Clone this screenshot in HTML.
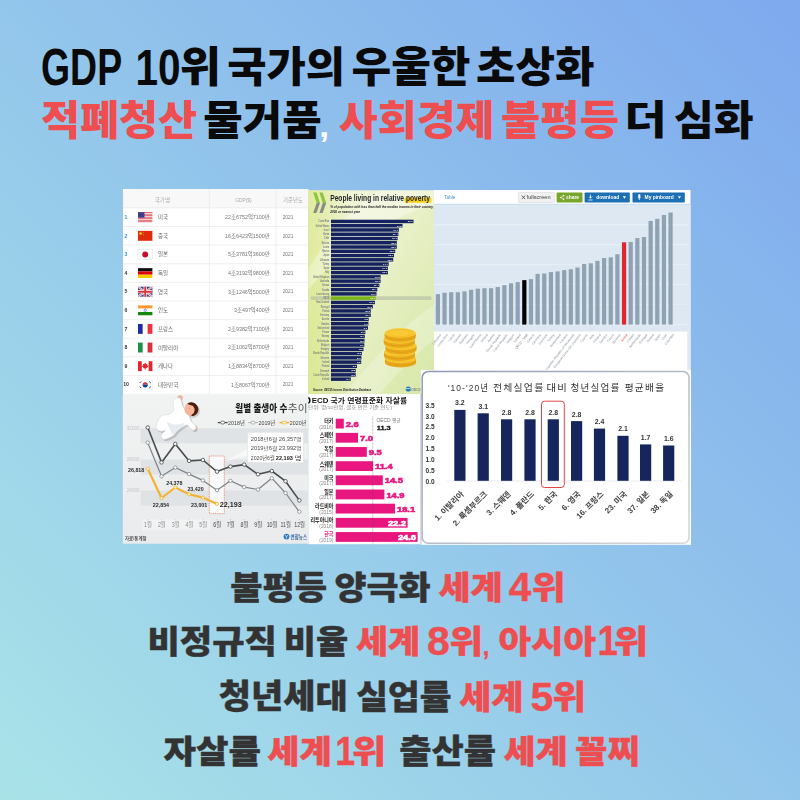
<!DOCTYPE html>
<html lang="ko"><head><meta charset="utf-8"><title>GDP 10위 국가의 우울한 초상화</title>
<style>
html,body{margin:0;padding:0;}
body{width:800px;height:800px;overflow:hidden;background:linear-gradient(45deg,#a9e3e8 0%,#93c6eb 50%,#7ea9ee 100%);font-family:"Liberation Sans","Noto Sans CJK KR",sans-serif;}
svg{position:absolute;left:0;top:0;display:block;}
</style></head><body>
<svg width="800" height="800" viewBox="0 0 800 800">
<defs>
<filter id="bl" x="-2%" y="-2%" width="104%" height="104%"><feGaussianBlur stdDeviation="0.35"/></filter>
<filter id="bl2" x="-5%" y="-5%" width="110%" height="110%"><feGaussianBlur stdDeviation="0.6"/></filter>
<linearGradient id="pov" x1="0" y1="0" x2="1" y2="1"><stop offset="0" stop-color="#f4f7e0"/><stop offset="0.5" stop-color="#e8f0c6"/><stop offset="1" stop-color="#d6e7a6"/></linearGradient>
<linearGradient id="povl" x1="0" y1="0" x2="1" y2="0"><stop offset="0" stop-color="#d3e26a" stop-opacity="0.55"/><stop offset="1" stop-color="#c3d94f" stop-opacity="0"/></linearGradient>
<linearGradient id="bg1" x1="0" y1="0" x2="0" y2="1"><stop offset="0" stop-color="#f1f3f3"/><stop offset="1" stop-color="#e9ebec"/></linearGradient>
<linearGradient id="ybd" x1="0" y1="0" x2="1" y2="1"><stop offset="0" stop-color="#8f97b3"/><stop offset="0.45" stop-color="#b4b9c6"/><stop offset="1" stop-color="#d6d6d6"/></linearGradient>
<clipPath id="cpTable"><rect x="123" y="189" width="185.5" height="206"/></clipPath>
<clipPath id="cpSui"><rect x="308.3" y="394" width="113" height="150.4"/></clipPath>
</defs>
<g id="collage" filter="url(#bl)" font-family="'Liberation Sans', 'Noto Sans CJK KR', sans-serif">
<g clip-path="url(#cpTable)">
<rect x="123.00" y="189.00" width="185.50" height="206.00" fill="#ffffff" />
<rect x="123.00" y="189.00" width="185.50" height="18.90" fill="#f8f8f8" />
<g stroke="#e6e6e6" stroke-width="0.6">
<line x1="123" y1="207.90" x2="308.5" y2="207.90"/>
<line x1="123" y1="226.52" x2="308.5" y2="226.52"/>
<line x1="123" y1="245.14" x2="308.5" y2="245.14"/>
<line x1="123" y1="263.76" x2="308.5" y2="263.76"/>
<line x1="123" y1="282.38" x2="308.5" y2="282.38"/>
<line x1="123" y1="301.00" x2="308.5" y2="301.00"/>
<line x1="123" y1="319.62" x2="308.5" y2="319.62"/>
<line x1="123" y1="338.24" x2="308.5" y2="338.24"/>
<line x1="123" y1="356.86" x2="308.5" y2="356.86"/>
<line x1="123" y1="375.48" x2="308.5" y2="375.48"/>
<line x1="123" y1="394.10" x2="308.5" y2="394.10"/>
<line x1="209.3" y1="189" x2="209.3" y2="394.2"/><line x1="276" y1="189" x2="276" y2="394.2"/>
</g>
<text x="154.67" y="201.90" font-size="5.6" fill="#aaaaaa">국가명</text>
<text x="243.40" y="201.60" font-size="4.80" fill="#aaaaaa" text-anchor="middle" font-weight="normal" >GDP($)</text>
<text x="283.06" y="201.90" font-size="5.4" fill="#aaaaaa">기준년도</text>
<text x="0.00" y="0.00" font-size="4.60" fill="#3a8be0" text-anchor="start" font-weight="bold" transform="translate(124.60 218.91) scale(1.120 1)" >1</text>
<rect x="138.00" y="212.26" width="14.40" height="9.90" fill="#ffffff" /><rect x="138.00" y="212.26" width="14.40" height="0.76" fill="#d8343f" /><rect x="138.00" y="213.78" width="14.40" height="0.76" fill="#d8343f" /><rect x="138.00" y="215.31" width="14.40" height="0.76" fill="#d8343f" /><rect x="138.00" y="216.83" width="14.40" height="0.76" fill="#d8343f" /><rect x="138.00" y="218.35" width="14.40" height="0.76" fill="#d8343f" /><rect x="138.00" y="219.88" width="14.40" height="0.76" fill="#d8343f" /><rect x="138.00" y="221.40" width="14.40" height="0.76" fill="#d8343f" /><rect x="138.00" y="212.26" width="6.48" height="5.35" fill="#3c3b8e" />
<text x="158.00" y="219.21" font-size="5.5" fill="#666666">미국</text>
<text x="269.8" y="219.11" font-size="5.4" fill="#777777" text-anchor="end">22조6752억7100만</text>
<text x="288.00" y="218.91" font-size="4.80" fill="#777777" text-anchor="middle" font-weight="normal" >2021</text>
<text x="0.00" y="0.00" font-size="4.60" fill="#3a8be0" text-anchor="start" font-weight="bold" transform="translate(124.60 237.53) scale(1.120 1)" >2</text>
<rect x="138.00" y="230.88" width="14.40" height="9.90" fill="#de2910" /><circle cx="140.60" cy="233.48" r="1.3" fill="#ffde00"/><circle cx="143.20" cy="232.18" r="0.45" fill="#ffde00"/><circle cx="143.60" cy="234.48" r="0.45" fill="#ffde00"/>
<text x="158.00" y="237.83" font-size="5.5" fill="#666666">중국</text>
<text x="269.8" y="237.73" font-size="5.4" fill="#777777" text-anchor="end">16조6423억1500만</text>
<text x="288.00" y="237.53" font-size="4.80" fill="#777777" text-anchor="middle" font-weight="normal" >2021</text>
<text x="0.00" y="0.00" font-size="4.60" fill="#3a8be0" text-anchor="start" font-weight="bold" transform="translate(124.60 256.15) scale(1.120 1)" >3</text>
<rect x="138.00" y="249.50" width="14.40" height="9.90" fill="#ffffff" stroke="#dddddd" stroke-width="0.5"/><circle cx="145.20" cy="254.45" r="2.97" fill="#c8102e"/>
<text x="158.00" y="256.45" font-size="5.5" fill="#666666">일본</text>
<text x="269.8" y="256.35" font-size="5.4" fill="#777777" text-anchor="end">5조3781억3600만</text>
<text x="288.00" y="256.15" font-size="4.80" fill="#777777" text-anchor="middle" font-weight="normal" >2021</text>
<text x="0.00" y="0.00" font-size="4.60" fill="#333333" text-anchor="start" font-weight="bold" transform="translate(124.60 274.77) scale(1.120 1)" >4</text>
<rect x="138.00" y="268.12" width="14.40" height="3.30" fill="#111111" /><rect x="138.00" y="271.42" width="14.40" height="3.30" fill="#dd0000" /><rect x="138.00" y="274.72" width="14.40" height="3.30" fill="#ffce00" />
<text x="158.00" y="275.07" font-size="5.5" fill="#666666">독일</text>
<text x="269.8" y="274.97" font-size="5.4" fill="#777777" text-anchor="end">4조3192억9800만</text>
<text x="288.00" y="274.77" font-size="4.80" fill="#777777" text-anchor="middle" font-weight="normal" >2021</text>
<text x="0.00" y="0.00" font-size="4.60" fill="#333333" text-anchor="start" font-weight="bold" transform="translate(124.60 293.39) scale(1.120 1)" >5</text>
<rect x="138.00" y="286.74" width="14.40" height="9.90" fill="#2b3f8c" /><path d="M138.00 286.74L152.40 296.64M152.40 286.74L138.00 296.64" stroke="#ffffff" stroke-width="2"/><path d="M138.00 286.74L152.40 296.64M152.40 286.74L138.00 296.64" stroke="#d8343f" stroke-width="0.7"/><path d="M145.20 286.74V296.64M138.00 291.69H152.40" stroke="#ffffff" stroke-width="3.2"/><path d="M145.20 286.74V296.64M138.00 291.69H152.40" stroke="#d8343f" stroke-width="1.9"/>
<text x="158.00" y="293.69" font-size="5.5" fill="#666666">영국</text>
<text x="269.8" y="293.59" font-size="5.4" fill="#777777" text-anchor="end">3조1246억5000만</text>
<text x="288.00" y="293.39" font-size="4.80" fill="#777777" text-anchor="middle" font-weight="normal" >2021</text>
<text x="0.00" y="0.00" font-size="4.60" fill="#333333" text-anchor="start" font-weight="bold" transform="translate(124.60 312.01) scale(1.120 1)" >6</text>
<rect x="138.00" y="305.36" width="14.40" height="3.30" fill="#ff9933" /><rect x="138.00" y="308.66" width="14.40" height="3.30" fill="#ffffff" /><rect x="138.00" y="311.96" width="14.40" height="3.30" fill="#138808" /><circle cx="145.20" cy="310.31" r="1.2" fill="none" stroke="#1a3a9a" stroke-width="0.5"/>
<text x="158.00" y="312.31" font-size="5.5" fill="#666666">인도</text>
<text x="269.8" y="312.21" font-size="5.4" fill="#777777" text-anchor="end">3조497억400만</text>
<text x="288.00" y="312.01" font-size="4.80" fill="#777777" text-anchor="middle" font-weight="normal" >2021</text>
<text x="0.00" y="0.00" font-size="4.60" fill="#333333" text-anchor="start" font-weight="bold" transform="translate(124.60 330.63) scale(1.120 1)" >7</text>
<rect x="138.00" y="323.98" width="4.80" height="9.90" fill="#1a2fa0" /><rect x="142.80" y="323.98" width="4.80" height="9.90" fill="#ffffff" /><rect x="147.60" y="323.98" width="4.80" height="9.90" fill="#ef3340" />
<text x="158.00" y="330.93" font-size="5.5" fill="#666666">프랑스</text>
<text x="269.8" y="330.83" font-size="5.4" fill="#777777" text-anchor="end">2조9382억7100만</text>
<text x="288.00" y="330.63" font-size="4.80" fill="#777777" text-anchor="middle" font-weight="normal" >2021</text>
<text x="0.00" y="0.00" font-size="4.60" fill="#333333" text-anchor="start" font-weight="bold" transform="translate(124.60 349.25) scale(1.120 1)" >8</text>
<rect x="138.00" y="342.60" width="4.80" height="9.90" fill="#1a9248" /><rect x="142.80" y="342.60" width="4.80" height="9.90" fill="#ffffff" /><rect x="147.60" y="342.60" width="4.80" height="9.90" fill="#d6323f" />
<text x="158.00" y="349.55" font-size="5.5" fill="#666666">이탈리아</text>
<text x="269.8" y="349.45" font-size="5.4" fill="#777777" text-anchor="end">2조1062억8700만</text>
<text x="288.00" y="349.25" font-size="4.80" fill="#777777" text-anchor="middle" font-weight="normal" >2021</text>
<text x="0.00" y="0.00" font-size="4.60" fill="#333333" text-anchor="start" font-weight="bold" transform="translate(124.60 367.87) scale(1.120 1)" >9</text>
<rect x="138.00" y="361.22" width="14.40" height="9.90" fill="#ffffff" /><rect x="138.00" y="361.22" width="3.74" height="9.90" fill="#e8202a" /><rect x="148.66" y="361.22" width="3.74" height="9.90" fill="#e8202a" /><path fill="#e8202a" d="M145.20 362.57l1 1.8 1.3-.5-.4 2 1.4-.3-.5 1.3-2.1 1.7h-.4v1.4h-.6v-1.4h-.4l-2.1-1.7-.5-1.3 1.4.3-.4-2 1.3.5z"/>
<text x="158.00" y="368.17" font-size="5.5" fill="#666666">캐나다</text>
<text x="269.8" y="368.07" font-size="5.4" fill="#777777" text-anchor="end">1조8834억8700만</text>
<text x="288.00" y="367.87" font-size="4.80" fill="#777777" text-anchor="middle" font-weight="normal" >2021</text>
<text x="0.00" y="0.00" font-size="4.60" fill="#333333" text-anchor="start" font-weight="bold" transform="translate(123.20 386.49) scale(1.120 1)" >10</text>
<rect x="138.00" y="379.84" width="14.40" height="9.90" fill="#ffffff" stroke="#e2e2e2" stroke-width="0.4"/><path d="M142.60 384.79A2.60 2.60 0 0 1 147.80 384.79Z" fill="#cd2e3a"/><path d="M142.60 384.79A2.60 2.60 0 0 0 147.80 384.79Z" fill="#0047a0"/><path d="M139.60 383.04l1.6-1.6M149.20 381.44l1.6 1.6M139.60 386.54l1.6 1.6M149.20 388.14l1.6-1.6" stroke="#222" stroke-width="0.9"/>
<text x="158.00" y="386.79" font-size="5.5" fill="#666666">대한민국</text>
<text x="269.8" y="386.69" font-size="5.4" fill="#777777" text-anchor="end">1조8067억700만</text>
<text x="288.00" y="386.49" font-size="4.80" fill="#777777" text-anchor="middle" font-weight="normal" >2021</text>
</g>
<g id="pov">
<rect x="308.30" y="190.30" width="125.70" height="203.70" fill="url(#pov)" />
<rect x="308.30" y="190.30" width="41.70" height="203.70" fill="url(#povl)" />
<path d="M308.3 290C340 250 390 215 434 205V190.3H380C350 210 325 240 308.3 270Z" fill="#ffffff" opacity="0.35"/>
<path d="M345 394C380 350 410 320 434 305V340C415 355 395 375 380 394Z" fill="#ffffff" opacity="0.25"/>
<path d="M313.20 192.6h3.4l3.4 10.4h-3.4z" fill="#8dc63f"/><path d="M316.60 203h3.4l-3.6 10h-3.2z" fill="#8a8d86"/>
<path d="M319.40 192.6h3.4l3.4 10.4h-3.4z" fill="#8dc63f"/><path d="M322.80 203h3.4l-3.6 10h-3.2z" fill="#8a8d86"/>
<rect x="404.4" y="197.6" width="27" height="5.2" rx="1.5" fill="#f6d21f"/>
<text x="0.00" y="0.00" font-size="8.70" fill="#1f2226" text-anchor="start" font-weight="bold" transform="translate(330.20 200.70) scale(0.765 1)" >People living in relative poverty</text>
<text x="0.00" y="0.00" font-size="3.60" fill="#222" text-anchor="start" font-weight="bold" transform="translate(330.20 207.50) scale(0.860 1)" font-style="italic">% of population with less than half the median income in their country,</text>
<text x="0.00" y="0.00" font-size="3.60" fill="#222" text-anchor="start" font-weight="bold" transform="translate(330.20 212.90) scale(0.860 1)" font-style="italic">2016 or nearest year</text>
<rect x="310.6" y="296.32" width="121" height="3.7" rx="1.8" fill="#b9c4a8" opacity="0.75"/>
<rect x="331.00" y="219.70" width="82.50" height="3.50" fill="#14245f" />
<text x="0.00" y="0.00" font-size="2.60" fill="#7a8078" text-anchor="end" font-weight="bold" transform="translate(329.30 222.35) scale(0.820 1)" >Costa Rica</text>
<text x="412.70" y="222.30" font-size="2.50" fill="#ffffff" text-anchor="end" font-weight="bold" >20.9</text>
<rect x="331.00" y="223.96" width="71.50" height="3.50" fill="#14245f" />
<text x="0.00" y="0.00" font-size="2.60" fill="#7a8078" text-anchor="end" font-weight="bold" transform="translate(329.30 226.61) scale(0.820 1)" >United States</text>
<text x="401.70" y="226.56" font-size="2.50" fill="#ffffff" text-anchor="end" font-weight="bold" >17.8</text>
<rect x="331.00" y="228.22" width="67.90" height="3.50" fill="#14245f" />
<text x="0.00" y="0.00" font-size="2.60" fill="#7a8078" text-anchor="end" font-weight="bold" transform="translate(329.30 230.87) scale(0.820 1)" >Israel</text>
<text x="398.10" y="230.82" font-size="2.50" fill="#ffffff" text-anchor="end" font-weight="bold" >17.7</text>
<rect x="331.00" y="232.49" width="67.40" height="3.50" fill="#14245f" />
<text x="0.00" y="0.00" font-size="2.60" fill="#7a8078" text-anchor="end" font-weight="bold" transform="translate(329.30 235.14) scale(0.820 1)" >Korea</text>
<text x="397.60" y="235.09" font-size="2.50" fill="#ffffff" text-anchor="end" font-weight="bold" >17.4</text>
<rect x="331.00" y="236.75" width="66.60" height="3.50" fill="#14245f" />
<text x="0.00" y="0.00" font-size="2.60" fill="#7a8078" text-anchor="end" font-weight="bold" transform="translate(329.30 239.40) scale(0.820 1)" >Chile</text>
<text x="396.80" y="239.35" font-size="2.50" fill="#ffffff" text-anchor="end" font-weight="bold" >16.1</text>
<rect x="331.00" y="241.01" width="65.80" height="3.50" fill="#14245f" />
<text x="0.00" y="0.00" font-size="2.60" fill="#7a8078" text-anchor="end" font-weight="bold" transform="translate(329.30 243.66) scale(0.820 1)" >Estonia</text>
<text x="396.00" y="243.61" font-size="2.50" fill="#ffffff" text-anchor="end" font-weight="bold" >15.7</text>
<rect x="331.00" y="245.27" width="65.80" height="3.50" fill="#14245f" />
<text x="0.00" y="0.00" font-size="2.60" fill="#7a8078" text-anchor="end" font-weight="bold" transform="translate(329.30 247.92) scale(0.820 1)" >Latvia</text>
<text x="396.00" y="247.87" font-size="2.50" fill="#ffffff" text-anchor="end" font-weight="bold" >15.7</text>
<rect x="331.00" y="249.53" width="64.20" height="3.50" fill="#14245f" />
<text x="0.00" y="0.00" font-size="2.60" fill="#7a8078" text-anchor="end" font-weight="bold" transform="translate(329.30 252.18) scale(0.820 1)" >Mexico</text>
<text x="394.40" y="252.13" font-size="2.50" fill="#ffffff" text-anchor="end" font-weight="bold" >15.6</text>
<rect x="331.00" y="253.80" width="63.00" height="3.50" fill="#14245f" />
<text x="0.00" y="0.00" font-size="2.60" fill="#7a8078" text-anchor="end" font-weight="bold" transform="translate(329.30 256.45) scale(0.820 1)" >Japan</text>
<text x="393.20" y="256.40" font-size="2.50" fill="#ffffff" text-anchor="end" font-weight="bold" >15.7</text>
<rect x="331.00" y="258.06" width="62.20" height="3.50" fill="#14245f" />
<text x="0.00" y="0.00" font-size="2.60" fill="#7a8078" text-anchor="end" font-weight="bold" transform="translate(329.30 260.71) scale(0.820 1)" >Lithuania</text>
<text x="392.40" y="260.66" font-size="2.50" fill="#ffffff" text-anchor="end" font-weight="bold" >15.7</text>
<rect x="331.00" y="262.32" width="57.70" height="3.50" fill="#14245f" />
<text x="0.00" y="0.00" font-size="2.60" fill="#7a8078" text-anchor="end" font-weight="bold" transform="translate(329.30 264.97) scale(0.820 1)" >Turkey</text>
<text x="387.90" y="264.92" font-size="2.50" fill="#ffffff" text-anchor="end" font-weight="bold" >14.4</text>
<rect x="331.00" y="266.58" width="56.90" height="3.50" fill="#14245f" />
<text x="0.00" y="0.00" font-size="2.60" fill="#7a8078" text-anchor="end" font-weight="bold" transform="translate(329.30 269.23) scale(0.820 1)" >Spain</text>
<text x="387.10" y="269.18" font-size="2.50" fill="#ffffff" text-anchor="end" font-weight="bold" >14.1</text>
<rect x="331.00" y="270.84" width="56.90" height="3.50" fill="#14245f" />
<text x="0.00" y="0.00" font-size="2.60" fill="#7a8078" text-anchor="end" font-weight="bold" transform="translate(329.30 273.49) scale(0.820 1)" >Italy</text>
<text x="387.10" y="273.44" font-size="2.50" fill="#ffffff" text-anchor="end" font-weight="bold" >13.7</text>
<rect x="331.00" y="275.11" width="49.60" height="3.50" fill="#14245f" />
<text x="0.00" y="0.00" font-size="2.60" fill="#7a8078" text-anchor="end" font-weight="bold" transform="translate(329.30 277.76) scale(0.820 1)" >United Kingdom</text>
<text x="379.80" y="277.71" font-size="2.50" fill="#ffffff" text-anchor="end" font-weight="bold" >11.9</text>
<rect x="331.00" y="279.37" width="49.60" height="3.50" fill="#14245f" />
<text x="0.00" y="0.00" font-size="2.60" fill="#7a8078" text-anchor="end" font-weight="bold" transform="translate(329.30 282.02) scale(0.820 1)" >Australia</text>
<text x="379.80" y="281.97" font-size="2.50" fill="#ffffff" text-anchor="end" font-weight="bold" >12.1</text>
<rect x="331.00" y="283.63" width="48.40" height="3.50" fill="#14245f" />
<text x="0.00" y="0.00" font-size="2.60" fill="#7a8078" text-anchor="end" font-weight="bold" transform="translate(329.30 286.28) scale(0.820 1)" >Greece</text>
<text x="378.60" y="286.23" font-size="2.50" fill="#ffffff" text-anchor="end" font-weight="bold" >11.4</text>
<rect x="331.00" y="287.89" width="46.30" height="3.50" fill="#14245f" />
<text x="0.00" y="0.00" font-size="2.60" fill="#7a8078" text-anchor="end" font-weight="bold" transform="translate(329.30 290.54) scale(0.820 1)" >Canada</text>
<text x="376.50" y="290.49" font-size="2.50" fill="#ffffff" text-anchor="end" font-weight="bold" >12.4</text>
<rect x="331.00" y="292.15" width="45.50" height="3.50" fill="#14245f" />
<text x="0.00" y="0.00" font-size="2.60" fill="#7a8078" text-anchor="end" font-weight="bold" transform="translate(329.30 294.80) scale(0.820 1)" >Luxembourg</text>
<text x="375.70" y="294.75" font-size="2.50" fill="#ffffff" text-anchor="end" font-weight="bold" >11.1</text>
<rect x="331.00" y="296.42" width="44.70" height="3.50" fill="#7ab51d" />
<text x="0.00" y="0.00" font-size="2.60" fill="#7a8078" text-anchor="end" font-weight="bold" transform="translate(329.30 299.07) scale(0.820 1)" >OECD</text>
<text x="374.90" y="299.02" font-size="2.50" fill="#ffffff" text-anchor="end" font-weight="bold" >11.7</text>
<rect x="331.00" y="300.68" width="43.90" height="3.50" fill="#14245f" />
<text x="0.00" y="0.00" font-size="2.60" fill="#7a8078" text-anchor="end" font-weight="bold" transform="translate(329.30 303.33) scale(0.820 1)" >New Zealand</text>
<text x="374.10" y="303.28" font-size="2.50" fill="#ffffff" text-anchor="end" font-weight="bold" >10.9</text>
<rect x="331.00" y="304.94" width="41.90" height="3.50" fill="#14245f" />
<text x="0.00" y="0.00" font-size="2.60" fill="#7a8078" text-anchor="end" font-weight="bold" transform="translate(329.30 307.59) scale(0.820 1)" >Portugal</text>
<text x="372.10" y="307.54" font-size="2.50" fill="#ffffff" text-anchor="end" font-weight="bold" >10.9</text>
<rect x="331.00" y="309.20" width="39.80" height="3.50" fill="#14245f" />
<text x="0.00" y="0.00" font-size="2.60" fill="#7a8078" text-anchor="end" font-weight="bold" transform="translate(329.30 311.85) scale(0.820 1)" >Poland</text>
<text x="370.00" y="311.80" font-size="2.50" fill="#ffffff" text-anchor="end" font-weight="bold" >10.3</text>
<rect x="331.00" y="313.46" width="39.80" height="3.50" fill="#14245f" />
<text x="0.00" y="0.00" font-size="2.60" fill="#7a8078" text-anchor="end" font-weight="bold" transform="translate(329.30 316.11) scale(0.820 1)" >Germany</text>
<text x="370.00" y="316.06" font-size="2.50" fill="#ffffff" text-anchor="end" font-weight="bold" >10.4</text>
<rect x="331.00" y="317.73" width="37.70" height="3.50" fill="#14245f" />
<text x="0.00" y="0.00" font-size="2.60" fill="#7a8078" text-anchor="end" font-weight="bold" transform="translate(329.30 320.38) scale(0.820 1)" >Austria</text>
<text x="367.90" y="320.33" font-size="2.50" fill="#ffffff" text-anchor="end" font-weight="bold" >9.8</text>
<rect x="331.00" y="321.99" width="37.40" height="3.50" fill="#14245f" />
<text x="0.00" y="0.00" font-size="2.60" fill="#7a8078" text-anchor="end" font-weight="bold" transform="translate(329.30 324.64) scale(0.820 1)" >Sweden</text>
<text x="367.60" y="324.59" font-size="2.50" fill="#ffffff" text-anchor="end" font-weight="bold" >9.3</text>
<rect x="331.00" y="326.25" width="37.00" height="3.50" fill="#14245f" />
<text x="0.00" y="0.00" font-size="2.60" fill="#7a8078" text-anchor="end" font-weight="bold" transform="translate(329.30 328.90) scale(0.820 1)" >Switzerland</text>
<text x="367.20" y="328.85" font-size="2.50" fill="#ffffff" text-anchor="end" font-weight="bold" >9.1</text>
<rect x="331.00" y="330.51" width="34.40" height="3.50" fill="#14245f" />
<text x="0.00" y="0.00" font-size="2.60" fill="#7a8078" text-anchor="end" font-weight="bold" transform="translate(329.30 333.16) scale(0.820 1)" >France</text>
<text x="364.60" y="333.11" font-size="2.50" fill="#ffffff" text-anchor="end" font-weight="bold" >8.3</text>
<rect x="331.00" y="334.77" width="33.80" height="3.50" fill="#14245f" />
<text x="0.00" y="0.00" font-size="2.60" fill="#7a8078" text-anchor="end" font-weight="bold" transform="translate(329.30 337.42) scale(0.820 1)" >Norway</text>
<text x="364.00" y="337.37" font-size="2.50" fill="#ffffff" text-anchor="end" font-weight="bold" >8.4</text>
<rect x="331.00" y="339.04" width="33.50" height="3.50" fill="#14245f" />
<text x="0.00" y="0.00" font-size="2.60" fill="#7a8078" text-anchor="end" font-weight="bold" transform="translate(329.30 341.69) scale(0.820 1)" >Netherlands</text>
<text x="363.70" y="341.64" font-size="2.50" fill="#ffffff" text-anchor="end" font-weight="bold" >8.3</text>
<rect x="331.00" y="343.30" width="33.30" height="3.50" fill="#14245f" />
<text x="0.00" y="0.00" font-size="2.60" fill="#7a8078" text-anchor="end" font-weight="bold" transform="translate(329.30 345.95) scale(0.820 1)" >Belgium</text>
<text x="363.50" y="345.90" font-size="2.50" fill="#ffffff" text-anchor="end" font-weight="bold" >9.7</text>
<rect x="331.00" y="347.56" width="32.50" height="3.50" fill="#14245f" />
<text x="0.00" y="0.00" font-size="2.60" fill="#7a8078" text-anchor="end" font-weight="bold" transform="translate(329.30 350.21) scale(0.820 1)" >Hungary</text>
<text x="362.70" y="350.16" font-size="2.50" fill="#ffffff" text-anchor="end" font-weight="bold" >8.0</text>
<rect x="331.00" y="351.82" width="30.90" height="3.50" fill="#14245f" />
<text x="0.00" y="0.00" font-size="2.60" fill="#7a8078" text-anchor="end" font-weight="bold" transform="translate(329.30 354.47) scale(0.820 1)" >Slovak Republic</text>
<text x="361.10" y="354.42" font-size="2.50" fill="#ffffff" text-anchor="end" font-weight="bold" >8.5</text>
<rect x="331.00" y="356.08" width="30.40" height="3.50" fill="#14245f" />
<text x="0.00" y="0.00" font-size="2.60" fill="#7a8078" text-anchor="end" font-weight="bold" transform="translate(329.30 358.73) scale(0.820 1)" >Slovenia</text>
<text x="360.60" y="358.68" font-size="2.50" fill="#ffffff" text-anchor="end" font-weight="bold" >8.7</text>
<rect x="331.00" y="360.35" width="30.20" height="3.50" fill="#14245f" />
<text x="0.00" y="0.00" font-size="2.60" fill="#7a8078" text-anchor="end" font-weight="bold" transform="translate(329.30 363.00) scale(0.820 1)" >Ireland</text>
<text x="360.40" y="362.95" font-size="2.50" fill="#ffffff" text-anchor="end" font-weight="bold" >9.2</text>
<rect x="331.00" y="364.61" width="26.00" height="3.50" fill="#14245f" />
<text x="0.00" y="0.00" font-size="2.60" fill="#7a8078" text-anchor="end" font-weight="bold" transform="translate(329.30 367.26) scale(0.820 1)" >Finland</text>
<text x="356.20" y="367.21" font-size="2.50" fill="#ffffff" text-anchor="end" font-weight="bold" >6.3</text>
<rect x="331.00" y="368.87" width="24.70" height="3.50" fill="#14245f" />
<text x="0.00" y="0.00" font-size="2.60" fill="#7a8078" text-anchor="end" font-weight="bold" transform="translate(329.30 371.52) scale(0.820 1)" >Denmark</text>
<text x="354.90" y="371.47" font-size="2.50" fill="#ffffff" text-anchor="end" font-weight="bold" >5.8</text>
<rect x="331.00" y="373.13" width="24.70" height="3.50" fill="#14245f" />
<text x="0.00" y="0.00" font-size="2.60" fill="#7a8078" text-anchor="end" font-weight="bold" transform="translate(329.30 375.78) scale(0.820 1)" >Czech Republic</text>
<text x="354.90" y="375.73" font-size="2.50" fill="#ffffff" text-anchor="end" font-weight="bold" >5.6</text>
<rect x="331.00" y="377.39" width="19.80" height="3.50" fill="#14245f" />
<text x="0.00" y="0.00" font-size="2.60" fill="#7a8078" text-anchor="end" font-weight="bold" transform="translate(329.30 380.04) scale(0.820 1)" >Iceland</text>
<text x="350.00" y="379.99" font-size="2.50" fill="#ffffff" text-anchor="end" font-weight="bold" >5.4</text>
<path d="M385.00 358.50v4.20a15.50 4.70 0 0 0 31.00 0v-4.20z" fill="#e9a91c"/><path d="M385.00 360.60a15.50 4.70 0 0 0 31.00 0" fill="none" stroke="#d6920f" stroke-width="0.5"/><ellipse cx="400.50" cy="358.50" rx="15.50" ry="4.70" fill="#f8c932"/><ellipse cx="400.50" cy="358.50" rx="12.40" ry="3.53" fill="none" stroke="#f3b520" stroke-width="0.5"/>
<path d="M384.00 352.00v4.20a15.50 4.70 0 0 0 31.00 0v-4.20z" fill="#e9a91c"/><path d="M384.00 354.10a15.50 4.70 0 0 0 31.00 0" fill="none" stroke="#d6920f" stroke-width="0.5"/><ellipse cx="399.50" cy="352.00" rx="15.50" ry="4.70" fill="#f8c932"/><ellipse cx="399.50" cy="352.00" rx="12.40" ry="3.53" fill="none" stroke="#f3b520" stroke-width="0.5"/>
<path d="M385.50 345.50v4.20a15.50 4.70 0 0 0 31.00 0v-4.20z" fill="#e9a91c"/><path d="M385.50 347.60a15.50 4.70 0 0 0 31.00 0" fill="none" stroke="#d6920f" stroke-width="0.5"/><ellipse cx="401.00" cy="345.50" rx="15.50" ry="4.70" fill="#f8c932"/><ellipse cx="401.00" cy="345.50" rx="12.40" ry="3.53" fill="none" stroke="#f3b520" stroke-width="0.5"/>
<path d="M383.80 339.00v4.20a15.50 4.70 0 0 0 31.00 0v-4.20z" fill="#e9a91c"/><path d="M383.80 341.10a15.50 4.70 0 0 0 31.00 0" fill="none" stroke="#d6920f" stroke-width="0.5"/><ellipse cx="399.30" cy="339.00" rx="15.50" ry="4.70" fill="#f8c932"/><ellipse cx="399.30" cy="339.00" rx="12.40" ry="3.53" fill="none" stroke="#f3b520" stroke-width="0.5"/>
<path d="M384.70 333.00v4.20a15.50 4.70 0 0 0 31.00 0v-4.20z" fill="#e9a91c"/><path d="M384.70 335.10a15.50 4.70 0 0 0 31.00 0" fill="none" stroke="#d6920f" stroke-width="0.5"/><ellipse cx="400.20" cy="333.00" rx="15.50" ry="4.70" fill="#f8c932"/><ellipse cx="400.20" cy="333.00" rx="12.40" ry="3.53" fill="none" stroke="#f3b520" stroke-width="0.5"/>
<text x="0.00" y="0.00" font-size="3.20" fill="#222" text-anchor="start" font-weight="bold" transform="translate(313.00 391.20) scale(0.860 1)" font-style="italic">Source: OECD Income Distribution Database</text>
<circle cx="408.3" cy="389" r="2.6" fill="#2a7cc0"/><path d="M406 388.5h4.6" stroke="#bfe0f5" stroke-width="0.8"/>
<text x="0.00" y="0.00" font-size="4.20" fill="#7d8a86" text-anchor="start" font-weight="bold" transform="translate(411.30 390.50) scale(0.800 1)" >OECD</text>
</g>
<g id="oecd">
<rect x="434.00" y="190.00" width="256.50" height="181.50" fill="#ffffff" />
<rect x="434.00" y="204.30" width="256.50" height="127.20" fill="#dde8f2" />
<rect x="434.00" y="203.80" width="256.50" height="0.70" fill="#b5cfe3" />
<rect x="687.30" y="331.50" width="3.20" height="40.00" fill="#dfe9f3" />
<g stroke="#f3f7fb" stroke-width="0.6">
<line x1="434" y1="224.80" x2="687" y2="224.80"/>
<line x1="434" y1="244.75" x2="687" y2="244.75"/>
<line x1="434" y1="264.70" x2="687" y2="264.70"/>
<line x1="434" y1="284.30" x2="687" y2="284.30"/>
<line x1="434" y1="304.25" x2="687" y2="304.25"/>
<line x1="434" y1="324.60" x2="687" y2="324.60"/>
</g>
<rect x="435.80" y="294.15" width="4.20" height="30.45" fill="#8ea2b2" />
<text transform="translate(441.40 335.0) rotate(-52)" font-size="3.1" fill="#858d95" text-anchor="end">Lithuania</text>
<rect x="442.45" y="292.75" width="4.20" height="31.85" fill="#8ea2b2" />
<text transform="translate(448.05 335.0) rotate(-52)" font-size="3.1" fill="#858d95" text-anchor="end">Costa Rica</text>
<rect x="449.10" y="292.20" width="4.20" height="32.40" fill="#8ea2b2" />
<text transform="translate(454.70 335.0) rotate(-52)" font-size="3.1" fill="#858d95" text-anchor="end">Latvia</text>
<rect x="455.74" y="292.20" width="4.20" height="32.40" fill="#8ea2b2" />
<text transform="translate(461.34 335.0) rotate(-52)" font-size="3.1" fill="#858d95" text-anchor="end">Estonia</text>
<rect x="462.39" y="291.35" width="4.20" height="33.25" fill="#8ea2b2" />
<text transform="translate(467.99 335.0) rotate(-52)" font-size="3.1" fill="#858d95" text-anchor="end">Australia</text>
<rect x="469.04" y="289.80" width="4.20" height="34.80" fill="#8ea2b2" />
<text transform="translate(474.64 335.0) rotate(-52)" font-size="3.1" fill="#858d95" text-anchor="end">Hungary</text>
<rect x="475.69" y="288.70" width="4.20" height="35.90" fill="#8ea2b2" />
<text transform="translate(481.29 335.0) rotate(-52)" font-size="3.1" fill="#858d95" text-anchor="end">Luxembourg</text>
<rect x="482.34" y="288.20" width="4.20" height="36.40" fill="#8ea2b2" />
<text transform="translate(487.94 335.0) rotate(-52)" font-size="3.1" fill="#858d95" text-anchor="end">Ireland</text>
<rect x="488.98" y="288.20" width="4.20" height="36.40" fill="#8ea2b2" />
<text transform="translate(494.58 335.0) rotate(-52)" font-size="3.1" fill="#858d95" text-anchor="end">Austria</text>
<rect x="495.63" y="287.00" width="4.20" height="37.60" fill="#8ea2b2" />
<text transform="translate(501.23 335.0) rotate(-52)" font-size="3.1" fill="#858d95" text-anchor="end">Slovak Republic</text>
<rect x="502.28" y="285.20" width="4.20" height="39.40" fill="#8ea2b2" />
<text transform="translate(507.88 335.0) rotate(-52)" font-size="3.1" fill="#858d95" text-anchor="end">Czech Republic</text>
<rect x="508.93" y="283.30" width="4.20" height="41.30" fill="#8ea2b2" />
<text transform="translate(514.53 335.0) rotate(-52)" font-size="3.1" fill="#858d95" text-anchor="end">Belgium</text>
<rect x="515.58" y="282.10" width="4.20" height="42.50" fill="#8ea2b2" />
<text transform="translate(521.18 335.0) rotate(-52)" font-size="3.1" fill="#858d95" text-anchor="end">Iceland</text>
<rect x="522.22" y="280.15" width="4.20" height="44.45" fill="#000000" />
<text transform="translate(527.82 335.0) rotate(-52)" font-size="3.1" fill="#666" text-anchor="end">OECD - Total</text>
<rect x="528.87" y="279.10" width="4.20" height="45.50" fill="#8ea2b2" />
<text transform="translate(534.47 335.0) rotate(-52)" font-size="3.1" fill="#858d95" text-anchor="end">Greece</text>
<rect x="535.52" y="273.85" width="4.20" height="50.75" fill="#8ea2b2" />
<text transform="translate(541.12 335.0) rotate(-52)" font-size="3.1" fill="#858d95" text-anchor="end">Germany</text>
<rect x="542.17" y="273.50" width="4.20" height="51.10" fill="#8ea2b2" />
<text transform="translate(547.77 335.0) rotate(-52)" font-size="3.1" fill="#858d95" text-anchor="end">Denmark</text>
<rect x="548.82" y="272.10" width="4.20" height="52.50" fill="#8ea2b2" />
<text transform="translate(554.42 335.0) rotate(-52)" font-size="3.1" fill="#858d95" text-anchor="end">Turkey</text>
<rect x="555.46" y="271.40" width="4.20" height="53.20" fill="#8ea2b2" />
<text transform="translate(561.06 335.0) rotate(-52)" font-size="3.1" fill="#858d95" text-anchor="end">Switzerland</text>
<rect x="562.11" y="270.10" width="4.20" height="54.50" fill="#8ea2b2" />
<text transform="translate(567.71 335.0) rotate(-52)" font-size="3.1" fill="#858d95" text-anchor="end">Canada</text>
<rect x="568.76" y="269.25" width="4.20" height="55.35" fill="#8ea2b2" />
<text transform="translate(574.36 335.0) rotate(-52)" font-size="3.1" fill="#858d95" text-anchor="end">Former Yugoslav Republic of Macedonia</text>
<rect x="575.41" y="267.50" width="4.20" height="57.10" fill="#8ea2b2" />
<text transform="translate(581.01 335.0) rotate(-52)" font-size="3.1" fill="#858d95" text-anchor="end">European Union (28 countries)</text>
<rect x="582.06" y="264.00" width="4.20" height="60.60" fill="#8ea2b2" />
<text transform="translate(587.66 335.0) rotate(-52)" font-size="3.1" fill="#858d95" text-anchor="end">Cyprus</text>
<rect x="588.70" y="263.30" width="4.20" height="61.30" fill="#8ea2b2" />
<text transform="translate(594.30 335.0) rotate(-52)" font-size="3.1" fill="#858d95" text-anchor="end">Italy</text>
<rect x="595.35" y="260.85" width="4.20" height="63.75" fill="#8ea2b2" />
<text transform="translate(600.95 335.0) rotate(-52)" font-size="3.1" fill="#858d95" text-anchor="end">Finland</text>
<rect x="602.00" y="258.05" width="4.20" height="66.55" fill="#8ea2b2" />
<text transform="translate(607.60 335.0) rotate(-52)" font-size="3.1" fill="#858d95" text-anchor="end">Sweden</text>
<rect x="608.65" y="257.35" width="4.20" height="67.25" fill="#8ea2b2" />
<text transform="translate(614.25 335.0) rotate(-52)" font-size="3.1" fill="#858d95" text-anchor="end">France</text>
<rect x="615.30" y="254.20" width="4.20" height="70.40" fill="#8ea2b2" />
<text transform="translate(620.90 335.0) rotate(-52)" font-size="3.1" fill="#858d95" text-anchor="end">Slovenia</text>
<rect x="621.94" y="242.30" width="4.20" height="82.30" fill="#e0282e" />
<text transform="translate(627.54 335.0) rotate(-52)" font-size="3.1" fill="#e0282e" text-anchor="end">Korea</text>
<rect x="628.59" y="241.95" width="4.20" height="82.65" fill="#8ea2b2" />
<text transform="translate(634.19 335.0) rotate(-52)" font-size="3.1" fill="#858d95" text-anchor="end">Croatia</text>
<rect x="635.24" y="238.10" width="4.20" height="86.50" fill="#8ea2b2" />
<text transform="translate(640.84 335.0) rotate(-52)" font-size="3.1" fill="#858d95" text-anchor="end">Netherlands</text>
<rect x="641.89" y="237.05" width="4.20" height="87.55" fill="#8ea2b2" />
<text transform="translate(647.49 335.0) rotate(-52)" font-size="3.1" fill="#858d95" text-anchor="end">Portugal</text>
<rect x="648.54" y="220.95" width="4.20" height="103.65" fill="#8ea2b2" />
<text transform="translate(654.14 335.0) rotate(-52)" font-size="3.1" fill="#858d95" text-anchor="end">Poland</text>
<rect x="655.18" y="218.85" width="4.20" height="105.75" fill="#8ea2b2" />
<text transform="translate(660.78 335.0) rotate(-52)" font-size="3.1" fill="#858d95" text-anchor="end">Spain</text>
<rect x="661.83" y="215.00" width="4.20" height="109.60" fill="#8ea2b2" />
<text transform="translate(667.43 335.0) rotate(-52)" font-size="3.1" fill="#858d95" text-anchor="end">Chile</text>
<rect x="668.48" y="212.55" width="4.20" height="112.05" fill="#8ea2b2" />
<text transform="translate(674.08 335.0) rotate(-52)" font-size="3.1" fill="#858d95" text-anchor="end">Colombia</text>
<text x="444.30" y="199.30" font-size="4.60" fill="#4d8fc4" text-anchor="start" font-weight="normal" >Table</text>
<rect x="518.4" y="192.4" width="35.8" height="10.1" rx="0.8" fill="#f1f1f1" stroke="#d0d0d0" stroke-width="0.5"/>
<path d="M521.8 195.5l3.4 3.6m0-3.6l-3.4 3.6" stroke="#444" stroke-width="0.8"/>
<text x="526.60" y="199.20" font-size="5.60" fill="#444" text-anchor="start" font-weight="normal" >fullscreen</text>
<rect x="556.6" y="192.4" width="25.9" height="10.1" rx="0.8" fill="#78a62c"/>
<path d="M563.6 195.6l-3 1.9 3 1.9" stroke="#fff" stroke-width="0.7" fill="none"/><circle cx="563.7" cy="195.6" r="0.8" fill="#fff"/><circle cx="560.6" cy="197.5" r="0.8" fill="#fff"/><circle cx="563.7" cy="199.4" r="0.8" fill="#fff"/>
<text x="566.00" y="199.10" font-size="4.90" fill="#ffffff" text-anchor="start" font-weight="bold" >share</text>
<rect x="584.6" y="192.4" width="45.2" height="10.1" rx="0.8" fill="#1b6fb3"/>
<path d="M590.5 194.7v3.4m-1.6-1.5l1.6 1.6 1.6-1.6M588.4 200h4.2" stroke="#fff" stroke-width="0.8" fill="none"/>
<text x="596.30" y="199.10" font-size="4.90" fill="#ffffff" text-anchor="start" font-weight="bold" >download</text>
<path d="M622.8 196.2h3.2l-1.6 2.6z" fill="#fff"/>
<rect x="632.5" y="192.4" width="52.3" height="10.1" rx="0.8" fill="#1b6fb3"/>
<path d="M639.3 194.6v3m-1.4 0h2.8m-1.4 0v2.4" stroke="#fff" stroke-width="0.9" fill="none"/><rect x="638.3" y="194.4" width="2" height="2.6" fill="#fff"/>
<text x="644.60" y="199.10" font-size="4.90" fill="#ffffff" text-anchor="start" font-weight="bold" >My pinboard</text>
<path d="M677.8 196.2h3.2l-1.6 2.6z" fill="#fff"/>
</g>
<g id="birth">
<rect x="122.80" y="394.80" width="185.80" height="148.90" fill="url(#bg1)" />
<rect x="140.60" y="428.25" width="168.00" height="15.00" fill="#e0e3e5" />
<rect x="140.60" y="459.50" width="168.00" height="15.00" fill="#e0e3e5" />
<rect x="140.60" y="490.50" width="168.00" height="15.10" fill="#e0e3e5" />
<text x="126.80" y="429.60" font-size="4.60" fill="#c3c6c8" text-anchor="start" font-weight="normal" >32000</text>
<text x="126.80" y="461.00" font-size="4.60" fill="#c3c6c8" text-anchor="start" font-weight="normal" >28000</text>
<text x="126.80" y="491.80" font-size="4.60" fill="#c3c6c8" text-anchor="start" font-weight="normal" >24000</text>
<path d="M247.6 449L225 461.3 247.6 455.5Z" fill="#f7f8f8"/>
<rect x="209.3" y="456" width="15" height="57.6" fill="#ffffff" fill-opacity="0.75" stroke="#e06a55" stroke-width="0.7" stroke-dasharray="1 0.8"/>
<polyline points="147.75,442.70 161.53,476.30 175.31,467.50 189.09,474.10 202.87,480.40 217.00,490.20 230.43,480.80 244.21,487.10 257.99,489.50 271.77,478.20 285.55,493.00 299.33,511.80" fill="none" stroke="#7d8387" stroke-width="1.20" stroke-linejoin="round"/><circle cx="147.75" cy="442.70" r="1.70" fill="#ffffff" stroke="#7d8387" stroke-width="0.75"/><circle cx="161.53" cy="476.30" r="1.70" fill="#ffffff" stroke="#7d8387" stroke-width="0.75"/><circle cx="175.31" cy="467.50" r="1.70" fill="#ffffff" stroke="#7d8387" stroke-width="0.75"/><circle cx="189.09" cy="474.10" r="1.70" fill="#ffffff" stroke="#7d8387" stroke-width="0.75"/><circle cx="202.87" cy="480.40" r="1.70" fill="#ffffff" stroke="#7d8387" stroke-width="0.75"/><circle cx="217.00" cy="490.20" r="1.70" fill="#ffffff" stroke="#7d8387" stroke-width="0.75"/><circle cx="230.43" cy="480.80" r="1.70" fill="#ffffff" stroke="#7d8387" stroke-width="0.75"/><circle cx="244.21" cy="487.10" r="1.70" fill="#ffffff" stroke="#7d8387" stroke-width="0.75"/><circle cx="257.99" cy="489.50" r="1.70" fill="#ffffff" stroke="#7d8387" stroke-width="0.75"/><circle cx="271.77" cy="478.20" r="1.70" fill="#ffffff" stroke="#7d8387" stroke-width="0.75"/><circle cx="285.55" cy="493.00" r="1.70" fill="#ffffff" stroke="#7d8387" stroke-width="0.75"/><circle cx="299.33" cy="511.80" r="1.70" fill="#ffffff" stroke="#7d8387" stroke-width="0.75"/>
<polyline points="147.75,427.50 161.53,462.40 175.31,443.90 189.09,460.90 202.87,460.00 217.00,471.60 230.43,466.60 244.21,464.60 257.99,474.30 271.77,471.00 285.55,481.20 299.33,500.40" fill="none" stroke="#4a4d50" stroke-width="1.60" stroke-linejoin="round"/><circle cx="147.75" cy="427.50" r="1.75" fill="#ffffff" stroke="#4a4d50" stroke-width="0.85"/><circle cx="161.53" cy="462.40" r="1.75" fill="#ffffff" stroke="#4a4d50" stroke-width="0.85"/><circle cx="175.31" cy="443.90" r="1.75" fill="#ffffff" stroke="#4a4d50" stroke-width="0.85"/><circle cx="189.09" cy="460.90" r="1.75" fill="#ffffff" stroke="#4a4d50" stroke-width="0.85"/><circle cx="202.87" cy="460.00" r="1.75" fill="#ffffff" stroke="#4a4d50" stroke-width="0.85"/><circle cx="217.00" cy="471.60" r="1.75" fill="#ffffff" stroke="#4a4d50" stroke-width="0.85"/><circle cx="230.43" cy="466.60" r="1.75" fill="#ffffff" stroke="#4a4d50" stroke-width="0.85"/><circle cx="244.21" cy="464.60" r="1.75" fill="#ffffff" stroke="#4a4d50" stroke-width="0.85"/><circle cx="257.99" cy="474.30" r="1.75" fill="#ffffff" stroke="#4a4d50" stroke-width="0.85"/><circle cx="271.77" cy="471.00" r="1.75" fill="#ffffff" stroke="#4a4d50" stroke-width="0.85"/><circle cx="285.55" cy="481.20" r="1.75" fill="#ffffff" stroke="#4a4d50" stroke-width="0.85"/><circle cx="299.33" cy="500.40" r="1.75" fill="#ffffff" stroke="#4a4d50" stroke-width="0.85"/>
<polyline points="147.75,468.75 161.53,498.00 175.31,487.50 189.09,494.30 202.87,497.60 217.00,503.90" fill="none" stroke="#f2b335" stroke-width="2.20" stroke-linejoin="round"/><circle cx="147.75" cy="468.75" r="1.60" fill="#fff3c4" stroke="#f2b335" stroke-width="0.80"/><circle cx="161.53" cy="498.00" r="1.60" fill="#fff3c4" stroke="#f2b335" stroke-width="0.80"/><circle cx="175.31" cy="487.50" r="1.60" fill="#fff3c4" stroke="#f2b335" stroke-width="0.80"/><circle cx="189.09" cy="494.30" r="1.60" fill="#fff3c4" stroke="#f2b335" stroke-width="0.80"/><circle cx="202.87" cy="497.60" r="1.60" fill="#fff3c4" stroke="#f2b335" stroke-width="0.80"/><circle cx="217.00" cy="503.90" r="1.60" fill="#fff3c4" stroke="#f2b335" stroke-width="0.80"/>
<text x="0.00" y="0.00" font-size="6.20" fill="#2a2a2a" text-anchor="start" font-weight="bold" transform="translate(128.00 471.50) scale(0.860 1)" >26,818</text>
<text x="0.00" y="0.00" font-size="6.20" fill="#2a2a2a" text-anchor="start" font-weight="bold" transform="translate(166.20 485.20) scale(0.860 1)" >24,378</text>
<text x="0.00" y="0.00" font-size="6.20" fill="#2a2a2a" text-anchor="start" font-weight="bold" transform="translate(187.40 490.90) scale(0.860 1)" >23,420</text>
<text x="0.00" y="0.00" font-size="6.20" fill="#2a2a2a" text-anchor="start" font-weight="bold" transform="translate(152.80 506.90) scale(0.860 1)" >22,854</text>
<text x="0.00" y="0.00" font-size="6.20" fill="#2a2a2a" text-anchor="start" font-weight="bold" transform="translate(191.00 506.90) scale(0.860 1)" >23,001</text>
<text x="0.00" y="0.00" font-size="8.00" fill="#2a2a2a" text-anchor="start" font-weight="bold" transform="translate(219.80 507.20) scale(0.900 1)" >22,193</text>
<line x1="147.75" y1="519" x2="147.75" y2="520.3" stroke="#999" stroke-width="0.4"/>
<text transform="translate(144.10 527.20) scale(0.849 1)" font-size="6.3" fill="#4a4a4a">1월</text>
<line x1="161.53" y1="519" x2="161.53" y2="520.3" stroke="#999" stroke-width="0.4"/>
<text transform="translate(157.88 527.20) scale(0.849 1)" font-size="6.3" fill="#4a4a4a">2월</text>
<line x1="175.31" y1="519" x2="175.31" y2="520.3" stroke="#999" stroke-width="0.4"/>
<text transform="translate(171.66 527.20) scale(0.849 1)" font-size="6.3" fill="#4a4a4a">3월</text>
<line x1="189.09" y1="519" x2="189.09" y2="520.3" stroke="#999" stroke-width="0.4"/>
<text transform="translate(185.44 527.20) scale(0.849 1)" font-size="6.3" fill="#4a4a4a">4월</text>
<line x1="202.87" y1="519" x2="202.87" y2="520.3" stroke="#999" stroke-width="0.4"/>
<text transform="translate(199.22 527.20) scale(0.849 1)" font-size="6.3" fill="#4a4a4a">5월</text>
<line x1="217.00" y1="519" x2="217.00" y2="520.3" stroke="#999" stroke-width="0.4"/>
<text transform="translate(213.35 527.20) scale(0.849 1)" font-size="6.3" fill="#4a4a4a">6월</text>
<line x1="230.43" y1="519" x2="230.43" y2="520.3" stroke="#999" stroke-width="0.4"/>
<text transform="translate(226.78 527.20) scale(0.849 1)" font-size="6.3" fill="#4a4a4a">7월</text>
<line x1="244.21" y1="519" x2="244.21" y2="520.3" stroke="#999" stroke-width="0.4"/>
<text transform="translate(240.56 527.20) scale(0.849 1)" font-size="6.3" fill="#4a4a4a">8월</text>
<line x1="257.99" y1="519" x2="257.99" y2="520.3" stroke="#999" stroke-width="0.4"/>
<text transform="translate(254.34 527.20) scale(0.849 1)" font-size="6.3" fill="#4a4a4a">9월</text>
<line x1="271.77" y1="519" x2="271.77" y2="520.3" stroke="#999" stroke-width="0.4"/>
<text transform="translate(266.63 527.20) scale(0.849 1)" font-size="6.3" fill="#4a4a4a">10월</text>
<line x1="285.55" y1="519" x2="285.55" y2="520.3" stroke="#999" stroke-width="0.4"/>
<text transform="translate(280.41 527.20) scale(0.849 1)" font-size="6.3" fill="#4a4a4a">11월</text>
<line x1="299.33" y1="519" x2="299.33" y2="520.3" stroke="#999" stroke-width="0.4"/>
<text transform="translate(294.19 527.20) scale(0.849 1)" font-size="6.3" fill="#4a4a4a">12월</text>
<rect x="142" y="519.5" width="68" height="11" fill="#ffffff" opacity="0.35" filter="url(#bl2)"/>
<text transform="translate(125.00 539.80) scale(0.9 1)" font-size="4.9" font-weight="500" fill="#333">자료/통계청</text>
<circle cx="286.5" cy="536.6" r="2.9" fill="#2b7cc4"/><path d="M285.3 535l1.2 1.9 1.3-1.9m-1.3 1.9v1.6" stroke="#fff" stroke-width="0.6" fill="none"/>
<text transform="translate(290.60 538.60) scale(0.86 1)" font-size="5.2" font-weight="bold" fill="#2a5d98">연합뉴스</text>
<text transform="translate(235.27 411.59) scale(0.814 1)" font-size="10.53" font-weight="900" fill="#1e1e1e">월별 출생아 수</text>
<text x="287.86" y="411.66" font-size="10.7" fill="#555">추이</text>
<line x1="217.80" y1="422.6" x2="227.60" y2="422.6" stroke="#444" stroke-width="1.20"/><ellipse cx="222.70" cy="422.6" rx="2.1" ry="1.5" fill="#fff" stroke="#444" stroke-width="0.7"/><text transform="translate(228.10 424.80) scale(0.93 1)" font-size="5.7" fill="#444">2018년</text>
<line x1="248.20" y1="422.6" x2="258.00" y2="422.6" stroke="#8e9498" stroke-width="0.70"/><ellipse cx="253.10" cy="422.6" rx="2.1" ry="1.5" fill="#fff" stroke="#8e9498" stroke-width="0.7"/><text transform="translate(258.50 424.80) scale(0.93 1)" font-size="5.7" fill="#444">2019년</text>
<line x1="279.50" y1="422.6" x2="289.30" y2="422.6" stroke="#f2b335" stroke-width="1.50"/><ellipse cx="284.40" cy="422.6" rx="2.1" ry="1.5" fill="#fff3c4" stroke="#f2b335" stroke-width="0.7"/><text transform="translate(289.80 424.80) scale(0.93 1)" font-size="5.7" fill="#444">2020년</text>
<rect x="247.5" y="432.3" width="56" height="30.3" fill="#ffffff"/>
<rect x="247.5" y="432.3" width="56" height="30.3" fill="none" stroke="#d8dadb" stroke-width="0.4"/>
<text transform="translate(250.77 441.08) scale(1.189 1)" font-size="4.82" fill="#4a4a4a">2018년6월 26,357명</text>
<text transform="translate(250.77 450.47) scale(1.165 1)" font-size="4.92" fill="#4a4a4a">2019년6월 23,992명</text>
<text transform="translate(250.79 460.02) scale(0.927 1)" font-size="5.59" fill="#4a4a4a">2020년6월</text>
<text transform="translate(275.81 459.54) scale(1.166 1)" font-size="4.81" font-weight="bold" fill="#222">22,193</text>
<text transform="translate(294.16 459.98) scale(1.458 1)" font-size="5.54" fill="#4a4a4a">명</text>
<g id="baby"><path d="M175.32 402.05C175.86 400.85 176.92 399.87 178.07 399.64C179.21 399.41 181.22 399.47 182.19 400.68C183.17 401.88 183.28 405.32 183.91 406.86C184.54 408.41 184.94 408.35 185.97 409.96C187.01 411.56 188.95 414.37 190.10 416.49C191.25 418.61 191.82 420.96 192.85 422.68C193.88 424.39 195.49 425.60 196.29 426.80C197.09 428.00 197.89 428.98 197.66 429.89C197.43 430.81 195.83 432.24 194.91 432.30C194.00 432.36 193.19 431.15 192.16 430.24C191.13 429.32 189.99 427.09 188.72 426.80C187.46 426.51 186.20 427.54 184.60 428.52C183.00 429.49 180.82 431.10 179.10 432.64C177.38 434.19 176.46 436.37 174.29 437.80C172.11 439.23 167.93 441.12 166.04 441.24C164.15 441.35 163.23 439.58 162.94 438.49C162.66 437.40 163.63 435.74 164.32 434.71C165.01 433.68 167.47 432.59 167.07 432.30C166.67 432.01 163.40 433.27 161.91 432.99C160.42 432.70 158.70 431.84 158.13 430.58C157.56 429.32 158.07 427.09 158.47 425.43C158.88 423.76 159.62 421.99 160.54 420.61C161.45 419.24 162.26 417.92 163.97 417.18C165.69 416.43 168.96 417.00 170.85 416.14C172.74 415.28 174.65 413.57 175.32 412.02C175.98 410.47 174.84 408.52 174.84 406.86C174.84 405.20 174.78 403.25 175.32 402.05Z" fill="#8d9296" opacity="0.45"/><ellipse cx="192.97" cy="410.91" rx="7" ry="7" fill="#8d9296" opacity="0.4"/><circle cx="180.04" cy="398.05" r="2.5" fill="#f3b39c" stroke="#c98e7c" stroke-width="0.3"/><circle cx="194.82" cy="427.75" r="2.3" fill="#f3b39c" stroke="#c98e7c" stroke-width="0.3"/><path d="M173.72 400.25C174.26 399.05 175.32 398.07 176.47 397.84C177.61 397.61 179.62 397.67 180.59 398.88C181.57 400.08 181.68 403.52 182.31 405.06C182.94 406.61 183.34 406.55 184.38 408.16C185.41 409.76 187.35 412.57 188.50 414.69C189.65 416.81 190.22 419.16 191.25 420.88C192.28 422.59 193.89 423.80 194.69 425.00C195.49 426.20 196.29 427.18 196.06 428.09C195.83 429.01 194.23 430.44 193.31 430.50C192.40 430.56 191.59 429.35 190.56 428.44C189.53 427.52 188.39 425.29 187.12 425.00C185.86 424.71 184.60 425.74 183.00 426.72C181.40 427.69 179.22 429.30 177.50 430.84C175.78 432.39 174.86 434.57 172.69 436.00C170.51 437.43 166.33 439.32 164.44 439.44C162.55 439.55 161.63 437.78 161.34 436.69C161.06 435.60 162.03 433.94 162.72 432.91C163.41 431.88 165.87 430.79 165.47 430.50C165.07 430.21 161.80 431.47 160.31 431.19C158.82 430.90 157.10 430.04 156.53 428.78C155.96 427.52 156.47 425.29 156.88 423.62C157.28 421.96 158.02 420.19 158.94 418.81C159.85 417.44 160.66 416.12 162.38 415.38C164.09 414.63 167.36 415.20 169.25 414.34C171.14 413.48 173.05 411.77 173.72 410.22C174.38 408.67 173.24 406.72 173.24 405.06C173.24 403.40 173.18 401.45 173.72 400.25Z" fill="#ffffff" stroke="#c9ced4" stroke-width="0.45"/><path d="M167.19 422.25C167.53 421.22 170.62 423.97 172.69 424.31C174.75 424.66 177.61 424.54 179.56 424.31C181.51 424.08 183.92 422.54 184.38 422.94C184.83 423.34 183.46 425.46 182.31 426.72C181.17 427.98 179.10 429.18 177.50 430.50C175.90 431.82 173.83 434.62 172.69 434.62C171.54 434.62 171.54 432.56 170.62 430.50C169.71 428.44 166.84 423.28 167.19 422.25Z" fill="#dfe6ee" opacity="0.8"/><ellipse cx="191.11" cy="409.19" rx="6.7" ry="6.9" fill="#f7b59b"/><path d="M187.47 403.69C187.76 403.29 189.88 402.26 191.25 402.31C192.62 402.37 194.54 403.00 195.72 404.03C196.90 405.06 198.07 407.01 198.33 408.50C198.59 409.99 198.02 411.77 197.30 412.97C196.58 414.17 195.01 415.26 194.00 415.72C192.99 416.18 191.25 416.23 191.25 415.72C191.25 415.20 193.45 413.77 194.00 412.62C194.55 411.48 194.78 409.99 194.55 408.84C194.32 407.70 193.46 406.44 192.62 405.75C191.79 405.06 190.39 405.06 189.53 404.72C188.67 404.38 187.18 404.09 187.47 403.69Z" fill="#4a1c08"/><path d="M188.84 408.16q.6.5 1.3 0" stroke="#8a5040" stroke-width="0.35" fill="none"/></g>
</g>
<g id="sui" clip-path="url(#cpSui)">
<rect x="308.30" y="394.00" width="113.00" height="150.40" fill="#ffffff" />
<text transform="translate(311.72 402.85) scale(1.176 1)" font-size="6.69" font-weight="bold" fill="#111">ECD 국가 연령표준화 자살률</text>
<ellipse cx="307.3" cy="400.4" rx="2.6" ry="2.6" fill="none" stroke="#111" stroke-width="1.5"/>
<text transform="translate(308.31 409.26) scale(1.251 1)" font-size="4.3" fill="#858585">단위: 명/10만명, 괄호 안은 기준 연도)</text>
<rect x="335.70" y="418.70" width="8.10" height="9.80" fill="#ea167f" />
<text transform="translate(333.40 423.00) scale(0.86 1)" font-size="5.8" font-weight="bold" fill="#111" text-anchor="end">터키</text>
<text x="0.00" y="0.00" font-size="5.00" fill="#8a8a8a" text-anchor="end" font-weight="normal" transform="translate(333.40 428.50) scale(0.980 1)" >(2016)</text>
<text x="0.00" y="0.00" font-size="7.60" fill="#ea167f" text-anchor="start" font-weight="bold" transform="translate(345.80 426.70) scale(1.220 1)" stroke="#ea167f" stroke-width="0.6">2.6</text>
<rect x="335.70" y="432.87" width="22.30" height="9.80" fill="#ea167f" />
<text transform="translate(333.40 437.17) scale(0.86 1)" font-size="5.8" font-weight="bold" fill="#111" text-anchor="end">스페인</text>
<text x="0.00" y="0.00" font-size="5.00" fill="#8a8a8a" text-anchor="end" font-weight="normal" transform="translate(333.40 442.67) scale(0.980 1)" >(2017)</text>
<text x="0.00" y="0.00" font-size="7.60" fill="#ea167f" text-anchor="start" font-weight="bold" transform="translate(360.00 440.87) scale(1.220 1)" stroke="#ea167f" stroke-width="0.6">7.0</text>
<rect x="335.70" y="447.04" width="31.10" height="9.80" fill="#ea167f" />
<text transform="translate(333.40 451.34) scale(0.86 1)" font-size="5.8" font-weight="bold" fill="#111" text-anchor="end">독일</text>
<text x="0.00" y="0.00" font-size="5.00" fill="#8a8a8a" text-anchor="end" font-weight="normal" transform="translate(333.40 456.84) scale(0.980 1)" >(2017)</text>
<text x="0.00" y="0.00" font-size="7.60" fill="#ea167f" text-anchor="start" font-weight="bold" transform="translate(368.80 455.04) scale(1.220 1)" stroke="#ea167f" stroke-width="0.6">9.5</text>
<rect x="335.70" y="461.21" width="37.40" height="9.80" fill="#ea167f" />
<text transform="translate(333.40 465.51) scale(0.86 1)" font-size="5.8" font-weight="bold" fill="#111" text-anchor="end">스웨덴</text>
<text x="0.00" y="0.00" font-size="5.00" fill="#8a8a8a" text-anchor="end" font-weight="normal" transform="translate(333.40 471.01) scale(0.980 1)" >(2017)</text>
<text x="0.00" y="0.00" font-size="7.60" fill="#ea167f" text-anchor="start" font-weight="bold" transform="translate(375.10 469.21) scale(1.220 1)" stroke="#ea167f" stroke-width="0.6">11.4</text>
<rect x="335.70" y="475.38" width="47.10" height="9.80" fill="#ea167f" />
<text transform="translate(333.40 479.68) scale(0.86 1)" font-size="5.8" font-weight="bold" fill="#111" text-anchor="end">미국</text>
<text x="0.00" y="0.00" font-size="5.00" fill="#8a8a8a" text-anchor="end" font-weight="normal" transform="translate(333.40 485.18) scale(0.980 1)" >(2017)</text>
<text x="0.00" y="0.00" font-size="7.60" fill="#ea167f" text-anchor="start" font-weight="bold" transform="translate(384.80 483.38) scale(1.220 1)" stroke="#ea167f" stroke-width="0.6">14.5</text>
<rect x="335.70" y="489.55" width="48.70" height="9.80" fill="#ea167f" />
<text transform="translate(333.40 493.85) scale(0.86 1)" font-size="5.8" font-weight="bold" fill="#111" text-anchor="end">일본</text>
<text x="0.00" y="0.00" font-size="5.00" fill="#8a8a8a" text-anchor="end" font-weight="normal" transform="translate(333.40 499.35) scale(0.980 1)" >(2017)</text>
<text x="0.00" y="0.00" font-size="7.60" fill="#ea167f" text-anchor="start" font-weight="bold" transform="translate(386.40 497.55) scale(1.220 1)" stroke="#ea167f" stroke-width="0.6">14.9</text>
<rect x="335.70" y="503.72" width="59.30" height="9.80" fill="#ea167f" />
<text transform="translate(333.40 508.02) scale(0.86 1)" font-size="5.8" font-weight="bold" fill="#111" text-anchor="end">라트비아</text>
<text x="0.00" y="0.00" font-size="5.00" fill="#8a8a8a" text-anchor="end" font-weight="normal" transform="translate(333.40 513.52) scale(0.980 1)" >(2015)</text>
<text x="0.00" y="0.00" font-size="7.60" fill="#ea167f" text-anchor="start" font-weight="bold" transform="translate(397.00 511.72) scale(1.220 1)" stroke="#ea167f" stroke-width="0.6">18.1</text>
<rect x="335.70" y="517.89" width="71.90" height="9.80" fill="#ea167f" />
<text transform="translate(333.40 522.19) scale(0.86 1)" font-size="5.8" font-weight="bold" fill="#111" text-anchor="end">리투아니아</text>
<text x="0.00" y="0.00" font-size="5.00" fill="#8a8a8a" text-anchor="end" font-weight="normal" transform="translate(333.40 527.69) scale(0.980 1)" >(2018)</text>
<text x="0.00" y="0.00" font-size="7.60" fill="#ffffff" text-anchor="end" font-weight="bold" transform="translate(406.00 525.89) scale(1.220 1)" stroke="#fff" stroke-width="0.6">22.2</text>
<rect x="335.70" y="532.06" width="81.90" height="9.80" fill="#ea167f" />
<text transform="translate(333.40 536.36) scale(0.86 1)" font-size="5.8" font-weight="bold" fill="#ea167f" text-anchor="end">한국</text>
<text x="0.00" y="0.00" font-size="5.00" fill="#8a8a8a" text-anchor="end" font-weight="normal" transform="translate(333.40 541.86) scale(0.980 1)" >(2019)</text>
<text x="0.00" y="0.00" font-size="7.60" fill="#ffffff" text-anchor="end" font-weight="bold" transform="translate(416.00 540.06) scale(1.220 1)" stroke="#fff" stroke-width="0.6">24.6</text>
<line x1="372.8" y1="416.5" x2="372.8" y2="543.5" stroke="#555" stroke-width="0.5" stroke-dasharray="0.7 0.7"/>
<text transform="translate(376.50 421.96) scale(1.1 1)" font-size="4.43" fill="#777">OECD 평균</text>
<text x="0.00" y="0.00" font-size="6.20" fill="#111" text-anchor="start" font-weight="bold" transform="translate(376.70 430.20) scale(1.200 1)" stroke="#111" stroke-width="0.3">11.3</text>
</g>
<g id="youth">
<rect x="420.80" y="370.00" width="270.20" height="174.80" fill="#ffffff" />
<rect x="420.30" y="394.00" width="1.30" height="150.40" fill="#c9ccd2" />
<rect x="422.2" y="371.6" width="266.8" height="171.6" rx="6" ry="6" fill="#ffffff" stroke="url(#ybd)" stroke-width="1.5"/>
<text transform="translate(447.94 391.24) scale(0.888 1)" font-size="9.5" letter-spacing="1.2" fill="#333333">'10-'20년</text>
<text transform="translate(492.88 391.07) scale(1.039 1)" font-size="9.5" letter-spacing="1.2" fill="#333333">전체실업률</text>
<text transform="translate(546.55 391.06) scale(1.09 1)" font-size="9.5" letter-spacing="1.2" fill="#333333">대비</text>
<text transform="translate(570.40 391.09) scale(1.012 1)" font-size="9.5" letter-spacing="1.2" fill="#333333">청년실업률</text>
<text transform="translate(624.69 391.07) scale(1.022 1)" font-size="9.5" letter-spacing="1.2" fill="#333333">평균배율</text>
<text x="0.00" y="0.00" font-size="6.90" fill="#333" text-anchor="start" font-weight="bold" transform="translate(425.60 407.50) scale(0.950 1)" >3.5</text>
<text x="0.00" y="0.00" font-size="6.90" fill="#333" text-anchor="start" font-weight="bold" transform="translate(425.60 418.75) scale(0.950 1)" >3.0</text>
<text x="0.00" y="0.00" font-size="6.90" fill="#333" text-anchor="start" font-weight="bold" transform="translate(425.60 429.40) scale(0.950 1)" >2.5</text>
<text x="0.00" y="0.00" font-size="6.90" fill="#333" text-anchor="start" font-weight="bold" transform="translate(425.60 440.20) scale(0.950 1)" >2.0</text>
<text x="0.00" y="0.00" font-size="6.90" fill="#333" text-anchor="start" font-weight="bold" transform="translate(425.60 451.00) scale(0.950 1)" >1.5</text>
<text x="0.00" y="0.00" font-size="6.90" fill="#333" text-anchor="start" font-weight="bold" transform="translate(425.60 461.90) scale(0.950 1)" >1.0</text>
<text x="0.00" y="0.00" font-size="6.90" fill="#333" text-anchor="start" font-weight="bold" transform="translate(425.60 472.80) scale(0.950 1)" >0.5</text>
<text x="0.00" y="0.00" font-size="6.90" fill="#333" text-anchor="start" font-weight="bold" transform="translate(425.60 483.60) scale(0.950 1)" >0.0</text>
<line x1="447" y1="481" x2="681" y2="481" stroke="#d5d5d5" stroke-width="0.5"/>
<rect x="454.30" y="409.90" width="11.20" height="70.90" fill="#13265d" />
<text x="0.00" y="0.00" font-size="7.30" fill="#333" text-anchor="middle" font-weight="bold" transform="translate(459.90 405.30) scale(0.950 1)" >3.2</text>
<text transform="translate(464.50 494.5) rotate(-45)" font-size="7.9" font-weight="bold" fill="#444" text-anchor="end">1. 이탈리아</text>
<rect x="477.60" y="413.30" width="11.20" height="67.50" fill="#13265d" />
<text x="0.00" y="0.00" font-size="7.30" fill="#333" text-anchor="middle" font-weight="bold" transform="translate(483.20 408.70) scale(0.950 1)" >3.1</text>
<text transform="translate(487.80 494.5) rotate(-45)" font-size="7.9" font-weight="bold" fill="#444" text-anchor="end">2. 룩셈부르크</text>
<rect x="501.00" y="419.30" width="11.20" height="61.50" fill="#13265d" />
<text x="0.00" y="0.00" font-size="7.30" fill="#333" text-anchor="middle" font-weight="bold" transform="translate(506.60 414.70) scale(0.950 1)" >2.8</text>
<text transform="translate(511.20 494.5) rotate(-45)" font-size="7.9" font-weight="bold" fill="#444" text-anchor="end">3. 스웨덴</text>
<rect x="524.40" y="419.30" width="11.20" height="61.50" fill="#13265d" />
<text x="0.00" y="0.00" font-size="7.30" fill="#333" text-anchor="middle" font-weight="bold" transform="translate(530.00 414.70) scale(0.950 1)" >2.8</text>
<text transform="translate(534.60 494.5) rotate(-45)" font-size="7.9" font-weight="bold" fill="#444" text-anchor="end">4. 폴란드</text>
<rect x="547.70" y="419.30" width="11.20" height="61.50" fill="#13265d" />
<text x="0.00" y="0.00" font-size="7.30" fill="#333" text-anchor="middle" font-weight="bold" transform="translate(553.30 414.70) scale(0.950 1)" >2.8</text>
<text transform="translate(557.90 494.5) rotate(-45)" font-size="7.9" font-weight="bold" fill="#444" text-anchor="end">5. 한국</text>
<rect x="571.00" y="421.10" width="11.20" height="59.70" fill="#13265d" />
<text x="0.00" y="0.00" font-size="7.30" fill="#333" text-anchor="middle" font-weight="bold" transform="translate(576.60 416.50) scale(0.950 1)" >2.8</text>
<text transform="translate(581.20 494.5) rotate(-45)" font-size="7.9" font-weight="bold" fill="#444" text-anchor="end">6. 영국</text>
<rect x="593.90" y="428.60" width="11.20" height="52.20" fill="#13265d" />
<text x="0.00" y="0.00" font-size="7.30" fill="#333" text-anchor="middle" font-weight="bold" transform="translate(599.50 424.00) scale(0.950 1)" >2.4</text>
<text transform="translate(604.10 494.5) rotate(-45)" font-size="7.9" font-weight="bold" fill="#444" text-anchor="end">16. 프랑스</text>
<rect x="617.40" y="435.80" width="11.20" height="45.00" fill="#13265d" />
<text x="0.00" y="0.00" font-size="7.30" fill="#333" text-anchor="middle" font-weight="bold" transform="translate(623.00 431.20) scale(0.950 1)" >2.1</text>
<text transform="translate(627.60 494.5) rotate(-45)" font-size="7.9" font-weight="bold" fill="#444" text-anchor="end">23. 미국</text>
<rect x="640.00" y="444.40" width="11.20" height="36.40" fill="#13265d" />
<text x="0.00" y="0.00" font-size="7.30" fill="#333" text-anchor="middle" font-weight="bold" transform="translate(645.60 439.80) scale(0.950 1)" >1.7</text>
<text transform="translate(650.20 494.5) rotate(-45)" font-size="7.9" font-weight="bold" fill="#444" text-anchor="end">37. 일본</text>
<rect x="663.10" y="445.50" width="11.20" height="35.30" fill="#13265d" />
<text x="0.00" y="0.00" font-size="7.30" fill="#333" text-anchor="middle" font-weight="bold" transform="translate(668.70 440.90) scale(0.950 1)" >1.6</text>
<text transform="translate(673.30 494.5) rotate(-45)" font-size="7.9" font-weight="bold" fill="#444" text-anchor="end">38. 독일</text>
<rect x="541.5" y="401.2" width="22.8" height="86.3" rx="3" fill="none" stroke="#e03030" stroke-width="0.9"/>
</g>
</g>
<g id="head" font-family="'Liberation Sans', 'Noto Sans CJK KR', sans-serif" font-weight="900">
<text transform="translate(41.00 84.60) scale(0.72 1)" font-size="52" fill="#0a0a0a">GDP</text>
<text transform="translate(135.50 84.75) scale(0.8 1)" font-size="50.7" fill="#0a0a0a">10</text>
<text transform="translate(179.66 81.63) scale(1.063 1)" font-size="42.22" fill="#0a0a0a">위</text>
<text transform="translate(227.21 81.94) scale(1.022 1)" font-size="41.83" fill="#0a0a0a">국가의</text>
<text transform="translate(351.55 81.95) scale(1.021 1)" font-size="42.19" fill="#0a0a0a">우울한</text>
<text transform="translate(475.95 81.94) scale(1.016 1)" font-size="42.28" fill="#0a0a0a">초상화</text>
<text transform="translate(40.90 134.73) scale(1.026 1)" font-size="41.4" fill="#ee4e4f">적폐청산</text>
<text transform="translate(203.25 134.76) scale(1.034 1)" font-size="41.47" fill="#0a0a0a">물거품</text>
<text transform="translate(319.14 136.73) scale(1.113 1)" font-size="31.57" fill="#ffffff">,</text>
<text transform="translate(338.85 134.67) scale(1.023 1)" font-size="41.37" fill="#ee4e4f">사회경제</text>
<text transform="translate(501.00 134.72) scale(1.032 1)" font-size="41.43" fill="#ee4e4f">불평등</text>
<text transform="translate(624.49 134.26) scale(1.137 1)" font-size="40.23" fill="#0a0a0a">더</text>
<text transform="translate(673.92 134.76) scale(1.046 1)" font-size="41.47" fill="#0a0a0a">심화</text>
</g>
<g id="bottom" font-family="'Liberation Sans', 'Noto Sans CJK KR', sans-serif" font-weight="900" stroke-width="0.4" stroke-linejoin="round">
<text transform="translate(230.22 598.62) scale(1.096 1)" font-size="32.06" fill="#333333" stroke="#333333">불평등</text>
<text transform="translate(334.45 598.62) scale(1.087 1)" font-size="32.06" fill="#333333" stroke="#333333">양극화</text>
<text transform="translate(438.46 598.68) scale(1.089 1)" font-size="32.09" fill="#ee4e4f" stroke="#ee4e4f">세계</text>
<text x="508.81" y="601.30" font-size="40.6" fill="#ee4e4f" stroke="#ee4e4f">4</text>
<text transform="translate(531.69 598.68) scale(1.149 1)" font-size="32.09" fill="#ee4e4f" stroke="#ee4e4f">위</text>
<text transform="translate(147.45 652.53) scale(1.113 1)" font-size="31.63" fill="#333333" stroke="#333333">비정규직</text>
<text transform="translate(283.72 652.53) scale(1.106 1)" font-size="31.63" fill="#333333" stroke="#333333">비율</text>
<text transform="translate(355.96 652.61) scale(1.1 1)" font-size="31.77" fill="#ee4e4f" stroke="#ee4e4f">세계</text>
<text x="427.01" y="655.45" font-size="41" fill="#ee4e4f" stroke="#ee4e4f">8</text>
<text transform="translate(449.45 652.61) scale(1.151 1)" font-size="31.77" fill="#ee4e4f" stroke="#ee4e4f">위</text>
<text transform="translate(482.70 654.99) scale(0.918 1)" font-size="25.58" fill="#ee4e4f" stroke="#ee4e4f">,</text>
<text transform="translate(498.46 652.53) scale(1.119 1)" font-size="31.63" fill="#ee4e4f" stroke="#ee4e4f">아시아</text>
<text transform="translate(597.40 655.30) scale(0.88 1)" font-size="41.6" fill="#ee4e4f" stroke="#ee4e4f">1</text>
<text transform="translate(613.66 652.61) scale(1.181 1)" font-size="31.77" fill="#ee4e4f" stroke="#ee4e4f">위</text>
<text transform="translate(218.86 708.46) scale(1.072 1)" font-size="32.7" fill="#333333" stroke="#333333">청년세대</text>
<text transform="translate(356.34 708.60) scale(1.045 1)" font-size="32.98" fill="#333333" stroke="#333333">실업률</text>
<text transform="translate(459.21 708.51) scale(1.065 1)" font-size="32.84" fill="#ee4e4f" stroke="#ee4e4f">세계</text>
<text x="530.46" y="711.24" font-size="41" fill="#ee4e4f" stroke="#ee4e4f">5</text>
<text transform="translate(552.45 708.51) scale(1.114 1)" font-size="32.84" fill="#ee4e4f" stroke="#ee4e4f">위</text>
<text transform="translate(163.53 763.33) scale(1.094 1)" font-size="32.3" fill="#333333" stroke="#333333">자살률</text>
<text transform="translate(267.21 763.36) scale(1.087 1)" font-size="32.3" fill="#ee4e4f" stroke="#ee4e4f">세계</text>
<text transform="translate(335.30 765.20) scale(0.88 1)" font-size="40.6" fill="#ee4e4f" stroke="#ee4e4f">1</text>
<text transform="translate(351.98 763.36) scale(1.15 1)" font-size="32.3" fill="#ee4e4f" stroke="#ee4e4f">위</text>
<text transform="translate(399.37 763.45) scale(1.08 1)" font-size="32.44" fill="#333333" stroke="#333333">출산률</text>
<text transform="translate(503.46 763.36) scale(1.082 1)" font-size="32.3" fill="#ee4e4f" stroke="#ee4e4f">세계</text>
<text transform="translate(575.11 763.33) scale(1.091 1)" font-size="32.3" fill="#ee4e4f" stroke="#ee4e4f">꼴찌</text>
</g>
</svg>
</body></html>
